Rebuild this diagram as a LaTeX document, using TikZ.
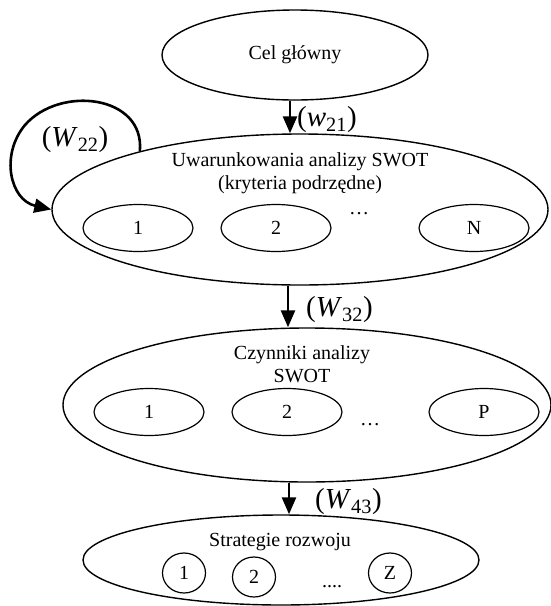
\documentclass[tikz,border=0pt]{standalone}
\usepackage{fontspec}
\setmainfont{Liberation Serif}
\usetikzlibrary{arrows.meta,shapes.geometric}

\begin{document}
\begin{tikzpicture}[
    x=1pt, y=-1pt,
    font=\fontsize{20}{23}\selectfont,
    level/.style={draw, ellipse, line width=1.4pt, inner sep=0pt},
    item/.style={draw, ellipse, line width=1.2pt, inner sep=0pt, minimum width=110pt, minimum height=47pt},
    flow/.style={line width=2.6pt, -{Triangle[length=17pt,width=14pt]}},
    weight/.style={font=\fontsize{29}{32}\selectfont, inner sep=0pt}
  ]
  \useasboundingbox (0,0) rectangle (551,606);
  \node[level, minimum width=266pt, minimum height=90pt] (goal) at (295,55) {Cel główny};

  \node[level, minimum width=496pt, minimum height=151pt] (crit) at (300,209.5) {};
  \node[align=center] (crittxt) at (300,173.5) {Uwarunkowania analizy SWOT\\(kryteria podrzędne)};
  \foreach \x/\t/\n in {138/1/c1, 276/2/c2, 474/N/cn}
    \node[item] (\n) at (\x,228) {\t};
  \node (cdots) at (359,214) {\dots};

  \node[level, minimum width=488pt, minimum height=154pt] (fact) at (307,405) {};
  \node[align=center] (facttxt) at (302,364.5) {Czynniki analizy\\SWOT};
  \foreach \x/\t/\n in {149/1/f1, 287/2/f2, 484/P/fp}
    \node[item] (\n) at (\x,412) {\t};
  \node (fdots) at (370,425) {\dots};

  \node[level, minimum width=396pt, minimum height=90pt] (strat) at (281,560) {};
  \node (strattxt) at (280,542) {Strategie rozwoju};
  \foreach \x/\y/\t/\n in {184/573/1/s1, 254/577/2/s2, 390/573/Z/sz}
    \node[item, minimum width=43pt, minimum height=40pt] (\n) at (\x,\y) {\t};
  \node (sdots) at (332,587) {....};

  \draw[flow] ([xshift=-5pt]goal.south) -- ([xshift=-10pt]crit.north);
  \draw[flow] ([xshift=-12pt]crit.south) -- ([xshift=-19pt]fact.north);
  \draw[flow] ([xshift=-18pt]fact.south) -- ([xshift=8pt]strat.north);
  \draw[flow] (crit.160) .. controls (145,95) and (60,85) .. (25,125)
    .. controls (0,155) and (10,200) .. (crit.west);

  \node[weight, anchor=west] (w21) at (297,120) {(\textit{w}\textsubscript{21})};
  \node[weight] (w22) at (75,140) {(\textit{W}\textsubscript{22})};
  \node[weight, anchor=west] (w32) at (306,310) {(\textit{W}\textsubscript{32})};
  \node[weight, anchor=west] (w43) at (315,502) {(\textit{W}\textsubscript{43})};
\end{tikzpicture}
\end{document}
